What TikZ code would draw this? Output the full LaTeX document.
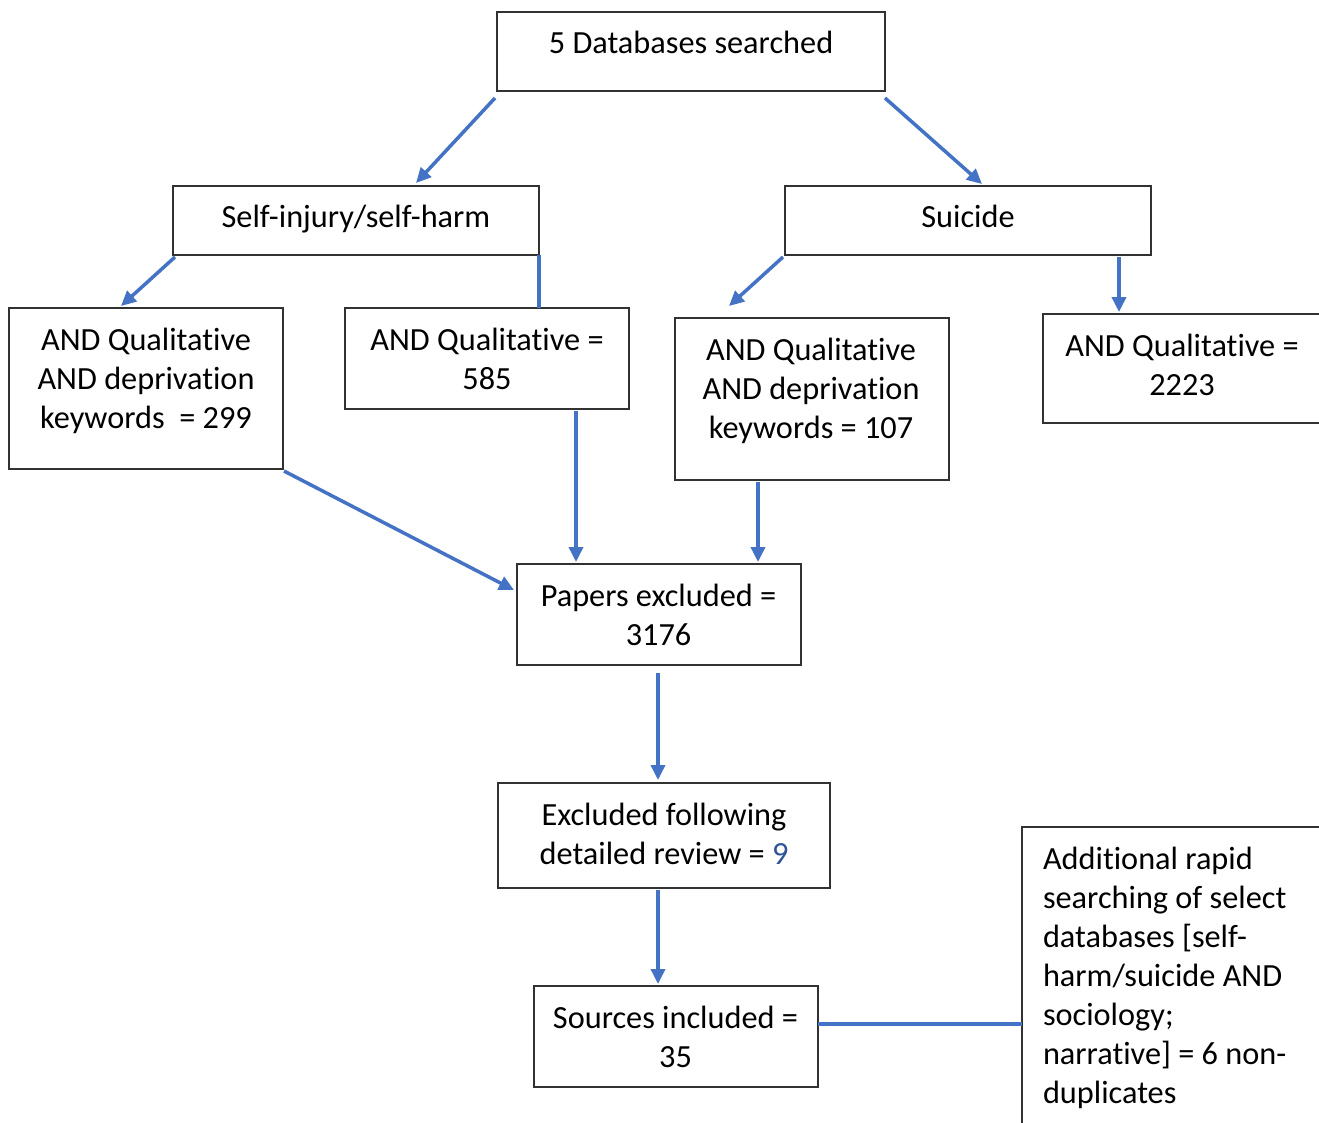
\documentclass[tikz,border=0pt]{standalone}
\usepackage{fontspec}
\setmainfont{Carlito}[Ligatures=NoCommon]
\usetikzlibrary{arrows.meta}
\definecolor{flowblue}{RGB}{68,114,196}
\definecolor{numblue}{RGB}{46,84,150}
\definecolor{boxline}{RGB}{50,50,50}
\newcommand{\Qual}{Qualitat\kern0pt ive}
\newcommand{\Depr}{deprivat\kern0pt ion}
\begin{document}
\begin{tikzpicture}[x=1pt,y=-1pt,
  box/.style={draw=boxline,line width=1.2pt,inner sep=0pt,outer sep=0pt,fill=none},
  txt/.style={inner sep=0pt,outer sep=0pt,anchor=north,align=center,
    font=\fontsize{32.3}{39}\selectfont,execute at begin node=\strut},
  ltxt/.style={txt,anchor=north west,align=left},
  arr/.style={draw=flowblue,line width=3.5pt,-{Triangle[length=15pt,width=14pt]}},
  lnk/.style={draw=flowblue,line width=3.5pt}]
\useasboundingbox (0,0) rectangle (1319,1122);
\clip (0,0) rectangle (1319,1122);
\fill[white] (0,0) rectangle (1319,1122);
% boxes
\node[box,minimum width=388pt,minimum height=79pt] (top) at (691,51.5) {};
\node[box,minimum width=366pt,minimum height=69pt] (sih) at (356,220.5) {};
\node[box,minimum width=366pt,minimum height=69pt] (sui) at (968,220.5) {};
\node[box,minimum width=274pt,minimum height=161pt] (b299) at (146,388.5) {};
\node[box,minimum width=284pt,minimum height=101pt] (b585) at (487,358.5) {};
\node[box,minimum width=274pt,minimum height=162pt] (b107) at (812,399) {};
\node[box,minimum width=287pt,minimum height=109pt] (b2223) at (1186.5,368.5) {};
\node[box,minimum width=284pt,minimum height=101pt] (pap) at (659,614.5) {};
\node[box,minimum width=332pt,minimum height=105pt] (exc) at (664,835.5) {};
\node[box,minimum width=284pt,minimum height=101pt] (src) at (676,1036.5) {};
\node[box,minimum width=308pt,minimum height=308pt] (add) at (1176,981) {};
% texts
\node[txt] (topt) at (691,25.7) {5 Databases searched};
\node[txt] (siht) at (356,199.7) {Self-injury/self-harm};
\node[txt] (suit) at (968,199.7) {Suicide};
\node[txt] (t299) at (146,327.7) {AND \Qual\\AND \Depr\\keywords\ \ = 299};
\node[txt] (t585) at (487,327.7) {AND \Qual{} =\\585};
\node[txt] (t107) at (811,337.7) {AND \Qual\\AND \Depr\\keywords = 107};
\node[txt] (t2223) at (1182,333.7) {AND \Qual{} =\\2223};
\node[txt] (papt) at (658.5,583.7) {Papers excluded =\\3176};
\node[txt] (exct) at (664,802.7) {Excluded following\\detailed review = \textcolor{numblue}{9}};
\node[txt] (srct) at (675.5,1005.7) {Sources included =\\35};
\node[ltxt] (addt) at (1043,846.7) {Additional rapid\\searching of select\\databases [self-\\harm/suicide AND\\sociology;\\narrative] = 6 non-\\duplicates};
% connectors
\draw[arr] ([shift={(-2,7)}]top.south west) -- ([shift={(243,-3)}]sih.north west);
\draw[arr] ([shift={(0,7)}]top.south east) -- ([shift={(197,-2)}]sui.north west);
\draw[arr] ([shift={(2,2)}]sih.south west) -- ([shift={(112,-2)}]b299.north west);
\draw[lnk] (sih.south east) -- ([shift={(194,0)}]b585.north west);
\draw[arr] ([shift={(-2,2)}]sui.south west) -- ([shift={(54,-12)}]b107.north west);
\draw[arr] ([shift={(334,2)}]sui.south west) -- ([shift={(76,-2)}]b2223.north west);
\draw[arr] ([shift={(1,2)}]b299.south east) -- ([shift={(-3,26)}]pap.north west);
\draw[arr] ([shift={(231,2)}]b585.south west) -- ([shift={(59,-2)}]pap.north west);
\draw[arr] ([shift={(83,2)}]b107.south west) -- ([shift={(241,-2)}]pap.north west);
\draw[arr] ([shift={(-1,8)}]pap.south) -- ([shift={(-6,-3)}]exc.north);
\draw[arr] ([shift={(-6,2)}]exc.south) -- ([shift={(-18,-2)}]src.north);
\draw[lnk] ([shift={(0,-12.5)}]src.east) -- ([shift={(0,43)}]add.west);
\end{tikzpicture}
\end{document}
